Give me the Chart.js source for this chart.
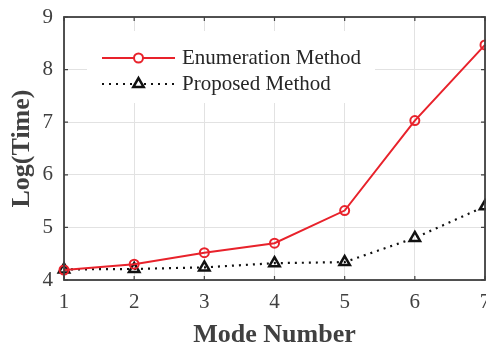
<!DOCTYPE html>
<html>
<head>
<meta charset="utf-8">
<script src="https://cdn.jsdelivr.net/npm/chart.js@4.4.1/dist/chart.umd.min.js"></script>
<style>
  html, body { margin: 0; padding: 0; background: #fff; }
  canvas { display: block; }
</style>
</head>
<body>
<canvas id="timeChart" width="486" height="348"></canvas>
<script>
// mode numbers and log run time of both methods
const modeNumbers = [1, 2, 3, 4, 5, 6, 7];
const enumerationTimes = [4.19, 4.30, 4.52, 4.70, 5.32, 7.03, 8.47];
const proposedTimes = [4.20, 4.21, 4.24, 4.32, 4.34, 4.80, 5.40];
const seriesNames = ["Enumeration Method", "Proposed Method"];
const yTicks = [4, 5, 6, 7, 8, 9];

const axisColor = "#404040";
const redColor = "#e8222b";
const serif = "'Liberation Serif', 'Times New Roman', serif";

const toPoints = (vals) => vals.map((v, i) => ({ x: modeNumbers[i], y: v }));

// box frame with inward ticks on all four sides
const framePlugin = {
  id: "frame",
  afterDatasetsDraw(chart) {
    const { ctx, chartArea: a, scales } = chart;
    ctx.save();
    ctx.strokeStyle = axisColor;
    ctx.lineWidth = 1.8;
    ctx.strokeRect(a.left, a.top, a.right - a.left, a.bottom - a.top);
    ctx.lineWidth = 1.2;
    ctx.beginPath();
    modeNumbers.forEach((m) => {
      const x = scales.x.getPixelForValue(m);
      ctx.moveTo(x, a.bottom);
      ctx.lineTo(x, a.bottom - 4);
      ctx.moveTo(x, a.top);
      ctx.lineTo(x, a.top + 4);
    });
    yTicks.forEach((t) => {
      const y = scales.y.getPixelForValue(t);
      ctx.moveTo(a.left, y);
      ctx.lineTo(a.left + 4, y);
      ctx.moveTo(a.right, y);
      ctx.lineTo(a.right - 4, y);
    });
    ctx.stroke();
    ctx.restore();
  },
};

// legend drawn inside the plot on a white box
const insideLegend = {
  id: "insideLegend",
  afterDatasetsDraw(chart) {
    const { ctx, chartArea: a } = chart;
    const boxX = a.left + 23;
    const boxY = a.top + 14;
    ctx.save();
    ctx.fillStyle = "#fff";
    ctx.fillRect(boxX, boxY, 288, 72);

    chart.data.datasets.forEach((ds, i) => {
      const y = boxY + 27 + i * 26;
      const x0 = boxX + 15;
      const x1 = boxX + 88;
      const mx = (x0 + x1) / 2;
      ctx.strokeStyle = ds.borderColor;
      ctx.lineWidth = ds.borderWidth;
      ctx.setLineDash(ds.borderDash || []);
      ctx.beginPath();
      ctx.moveTo(x0, y);
      ctx.lineTo(x1, y);
      ctx.stroke();
      ctx.setLineDash([]);

      ctx.strokeStyle = ds.pointBorderColor;
      ctx.lineWidth = ds.pointBorderWidth;
      ctx.fillStyle = "#fff";
      const r = ds.pointRadius;
      ctx.beginPath();
      if (ds.pointStyle === "triangle") {
        ctx.moveTo(mx, y - r);
        ctx.lineTo(mx + r * Math.sin(Math.PI / 3), y + r / 2);
        ctx.lineTo(mx - r * Math.sin(Math.PI / 3), y + r / 2);
        ctx.closePath();
      } else {
        ctx.arc(mx, y, r, 0, Math.PI * 2);
      }
      ctx.fill();
      ctx.stroke();

      ctx.fillStyle = "#262626";
      ctx.font = "21px " + serif;
      ctx.textBaseline = "middle";
      ctx.fillText(ds.label, x1 + 7, y);
    });
    ctx.restore();
  },
};

new Chart(document.getElementById("timeChart"), {
  type: "line",
  data: {
    datasets: [
      {
        label: seriesNames[0],
        data: toPoints(enumerationTimes),
        borderColor: redColor,
        borderWidth: 2,
        pointStyle: "circle",
        pointRadius: 4.5,
        pointBorderWidth: 2,
        pointBorderColor: redColor,
        pointBackgroundColor: "rgba(255,255,255,0)",
        clip: false,
      },
      {
        label: seriesNames[1],
        data: toPoints(proposedTimes),
        borderColor: "#111",
        borderWidth: 2.2,
        borderDash: [2, 5],
        pointStyle: "triangle",
        pointRadius: 6,
        pointBorderWidth: 2.5,
        pointBorderColor: "#111",
        pointBackgroundColor: "rgba(255,255,255,0)",
        clip: false,
      },
    ],
  },
  options: {
    responsive: false,
    animation: false,
    layout: { autoPadding: false, padding: { left: 0, right: 1, top: 17, bottom: 0 } },
    plugins: { legend: { display: false }, tooltip: { enabled: false } },
    scales: {
      x: {
        type: "linear",
        min: 1,
        max: 7,
        afterBuildTicks: (scale) => {
          scale.ticks = modeNumbers.map((v) => ({ value: v }));
        },
        afterFit: (scale) => {
          scale.height = 68;
          scale.paddingLeft = 0;
          scale.paddingRight = 0;
        },
        grid: { color: "#e2e2e2", lineWidth: 1, drawTicks: false },
        border: { display: false },
        ticks: {
          padding: 10,
          color: axisColor,
          font: { family: serif, size: 21 },
          maxRotation: 0,
        },
        title: {
          display: true,
          text: "Mode Number",
          color: axisColor,
          font: { family: serif, size: 26, weight: "bold", lineHeight: 1.0 },
          padding: { top: 0, bottom: 0 },
        },
      },
      y: {
        min: 4,
        max: 9,
        afterBuildTicks: (scale) => {
          scale.ticks = yTicks.map((v) => ({ value: v }));
        },
        afterFit: (scale) => {
          scale.width = 64;
          scale.paddingTop = 0;
          scale.paddingBottom = 0;
        },
        grid: { color: "#e2e2e2", lineWidth: 1, drawTicks: false },
        border: { display: false },
        ticks: {
          padding: 11,
          color: axisColor,
          font: { family: serif, size: 21 },
        },
        title: {
          display: true,
          text: "Log(Time)",
          color: axisColor,
          font: { family: serif, size: 26, weight: "bold" },
          padding: { top: 7, bottom: 0 },
        },
      },
    },
  },
  plugins: [insideLegend, framePlugin],
});
</script>
</body>
</html>
